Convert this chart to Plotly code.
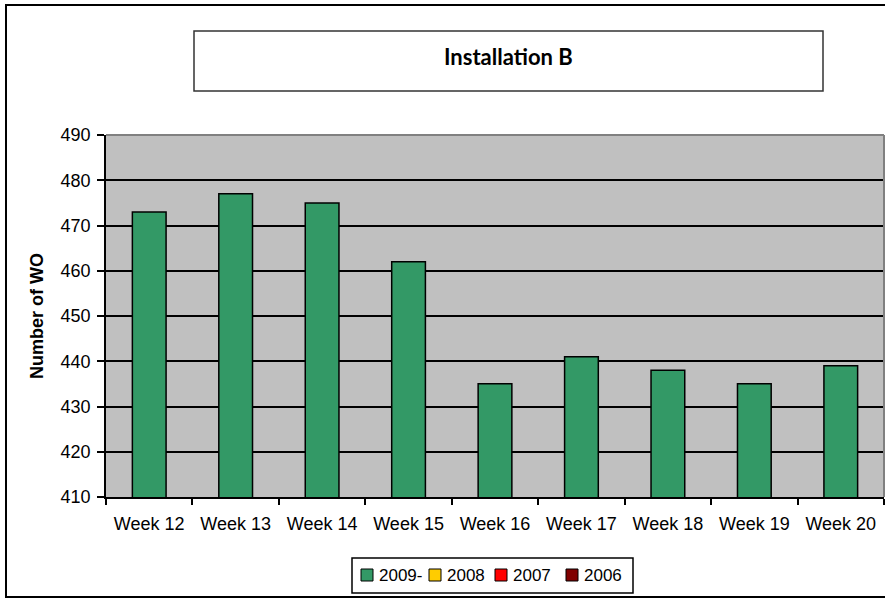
import plotly.graph_objects as go

# Weekly work-order counts for Installation B
weeks = ["Week 12", "Week 13", "Week 14", "Week 15", "Week 16",
         "Week 17", "Week 18", "Week 19", "Week 20"]
wo_2009 = [473, 477, 475, 462, 435, 441, 438, 435, 439]
wo_2008 = [None] * len(weeks)
wo_2007 = [None] * len(weeks)
wo_2006 = [None] * len(weeks)

series_names = ["2009-", "2008", "2007", "2006"]
series_values = [wo_2009, wo_2008, wo_2007, wo_2006]
series_colors = ["#339966", "#FFCC00", "#FF0000", "#800000"]

FONT = "Liberation Sans"

W, H = 885, 599
L, R, T, B = 106, 1, 135, 102
PW, PH = W - L - R, H - T - B


def px_x(x):
    return (x - L) / PW


def px_y(y):
    return (H - B - y) / PH


fig = go.Figure()
for name, vals, color in zip(series_names, series_values, series_colors):
    fig.add_trace(go.Bar(
        x=weeks, y=vals, name=name, width=0.39, showlegend=False,
        marker=dict(color=color, line=dict(color="black", width=1.5)),
    ))

shapes = [
    # outer chart frame
    dict(type="rect", xref="paper", yref="paper",
         x0=px_x(6), x1=px_x(890), y0=px_y(597), y1=px_y(5),
         line=dict(color="black", width=2), layer="below"),
    # title box
    dict(type="rect", xref="paper", yref="paper",
         x0=px_x(194), x1=px_x(823), y0=px_y(91), y1=px_y(31),
         line=dict(color="#333333", width=1.5)),
    # plot-area border (top and right)
    dict(type="line", xref="paper", yref="paper",
         x0=0, x1=1, y0=1, y1=1, line=dict(color="#808080", width=2)),
    dict(type="line", xref="paper", yref="paper",
         x0=1, x1=1, y0=0, y1=1, line=dict(color="#808080", width=2)),
    # legend box
    dict(type="rect", xref="paper", yref="paper",
         x0=px_x(352), x1=px_x(633), y0=px_y(593), y1=px_y(558),
         line=dict(color="black", width=1.5), fillcolor="white"),
]

annotations = [dict(
    text="<b>Installation B</b>", xref="paper", yref="paper",
    x=px_x(508), y=px_y(56), xanchor="center", yanchor="middle",
    showarrow=False, font=dict(family="Lato", size=22, color="black"),
)]

# legend entries: swatch + label, laid out in one row
legend_swatch_left = [361, 429, 495, 566]
legend_cy = 575
for name, color, sx in zip(series_names, series_colors, legend_swatch_left):
    shapes.append(dict(
        type="rect", xref="paper", yref="paper",
        x0=px_x(sx), x1=px_x(sx + 12),
        y0=px_y(legend_cy + 6), y1=px_y(legend_cy - 6),
        fillcolor=color, line=dict(color="black", width=1),
    ))
    annotations.append(dict(
        text=name, xref="paper", yref="paper",
        x=px_x(sx + 16), y=px_y(legend_cy), xanchor="left", yanchor="middle",
        showarrow=False, font=dict(family=FONT, size=17, color="black"),
    ))

fig.update_layout(
    width=W, height=H,
    margin=dict(l=L, r=R, t=T, b=B, pad=0),
    paper_bgcolor="white",
    plot_bgcolor="#C0C0C0",
    barmode="overlay",
    font=dict(family=FONT, size=18, color="black"),
    shapes=shapes,
    annotations=annotations,
    showlegend=False,
    xaxis=dict(
        type="category", tickson="boundaries",
        ticks="outside", ticklen=6, tickcolor="black", tickwidth=1.5,
        showline=True, linecolor="black", linewidth=1.5,
        showgrid=False, tickfont=dict(family=FONT, size=18), ticklabelstandoff=10,
    ),
    yaxis=dict(
        range=[410, 490], dtick=10, tick0=410,
        ticks="outside", ticklen=7, tickcolor="black", tickwidth=1.5,
        showline=True, linecolor="black", linewidth=1.5,
        showgrid=True, gridcolor="black", gridwidth=1.5, zeroline=False,
        tickfont=dict(family=FONT, size=18), ticklabelstandoff=3,
        title=dict(text="<b>Number of WO</b>", standoff=12,
                   font=dict(family=FONT, size=18)),
    ),
)

fig.write_html("out.html")
